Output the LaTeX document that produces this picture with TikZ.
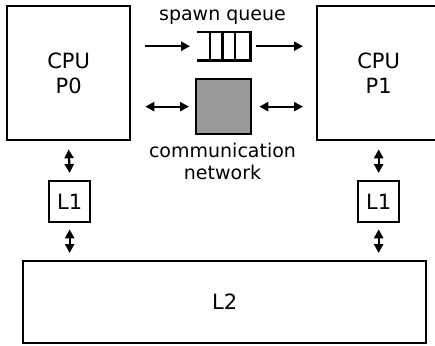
\documentclass[tikz,border=0pt]{standalone}
\usepackage{fontspec}
\setmainfont{DejaVu Sans}
\usetikzlibrary{arrows.meta}
\begin{document}
\begin{tikzpicture}[x=1pt,y=-1pt,
  box/.style={draw, line width=2.3pt, inner sep=0pt, anchor=north west, align=center,
              font=\fontsize{21}{25}\selectfont},
  lbl/.style={inner sep=0pt, align=center, font=\fontsize{19}{22}\selectfont},
  tip/.tip={Triangle[length=9pt,width=9pt]},
  arr/.style={-tip, line width=2.3pt},
  darr/.style={tip-tip, line width=2.3pt}]
\useasboundingbox (0,0) rectangle (435,345);
\clip (0,0) rectangle (435,345);
% CPUs
\node[box, minimum width=123pt, minimum height=134pt] (p0) at (6,5) {CPU\\P0};
\node[box, minimum width=123pt, minimum height=134pt] (p1) at (316,5) {CPU\\P1};
% L1 caches
\node[box, minimum width=41pt, minimum height=41pt] (l1a) at (48,180) {L1};
\node[box, minimum width=41pt, minimum height=41pt] (l1b) at (357,180) {L1};
% L2 cache
\node[box, minimum width=403pt, minimum height=82pt] (l2) at (22,260) {L2};
% spawn queue
\node[inner sep=0pt, minimum width=53pt, minimum height=28pt, anchor=north west] (queue) at (197,32) {};
\draw[line width=2.3pt] (queue.north west) -- (queue.north east) -- (queue.south east) -- (queue.south west);
\draw[line width=2.3pt] ([xshift=13pt]queue.north west) -- ([xshift=13pt]queue.south west);
\draw[line width=2.3pt] ([xshift=25.5pt]queue.north west) -- ([xshift=25.5pt]queue.south west);
\draw[line width=2.3pt] ([xshift=38pt]queue.north west) -- ([xshift=38pt]queue.south west);
\node[lbl, anchor=base] (sq) at (222.5,21) {spawn queue};
% communication network
\node[draw, line width=2.3pt, fill={rgb,255:red,154;green,154;blue,154}, inner sep=0pt,
      minimum width=55pt, minimum height=55pt, anchor=north west] (net) at (195,78) {};
\node[lbl, anchor=north] (netl) at (222.5,143) {communication\\network};
% connectors
\draw[arr] ([xshift=14pt]p0.east |- queue.west) -- ([xshift=-7pt]queue.west);
\draw[arr] ([xshift=6pt]queue.east) -- ([xshift=-13pt]p1.west |- queue.east);
\draw[darr] ([xshift=14pt]p0.east |- net.west) -- ([xshift=-6pt]net.west);
\draw[darr] ([xshift=7pt]net.east) -- ([xshift=-13pt]p1.west |- net.east);
\draw[darr] ([yshift=-8pt]p0.south) -- ([yshift=7pt]l1a.north);
\draw[darr] ([yshift=-8pt]p1.south) -- ([yshift=7pt]l1b.north);
\draw[darr] ([yshift=-6pt]l1a.south) -- ([yshift=7pt]l2.north -| l1a.south);
\draw[darr] ([yshift=-6pt]l1b.south) -- ([yshift=7pt]l2.north -| l1b.south);
\end{tikzpicture}
\end{document}
